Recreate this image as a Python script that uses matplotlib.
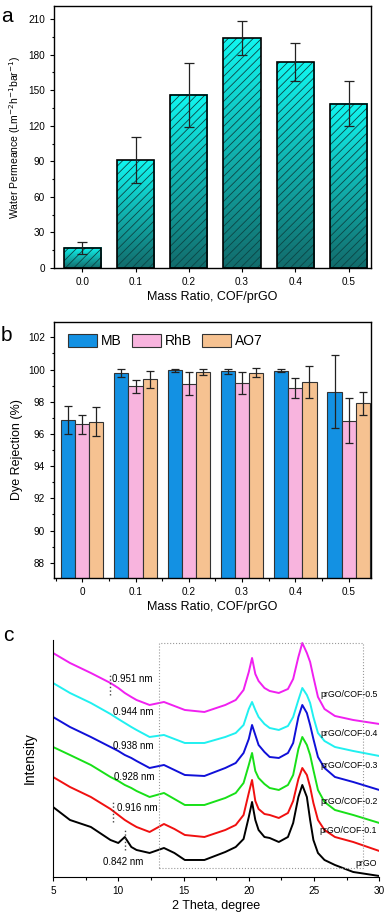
import numpy as np
import matplotlib
matplotlib.use("Agg")
import matplotlib.pyplot as plt
from matplotlib.colors import LinearSegmentedColormap
from matplotlib.ticker import MultipleLocator, NullLocator

plt.rcParams['font.family'] = ['Liberation Sans', 'DejaVu Sans']
plt.rcParams['hatch.linewidth'] = 0.6

# ---- panel a: water permeance ----
ratio_labels = ["0.0", "0.1", "0.2", "0.3", "0.4", "0.5"]
permeance = [17, 91, 146, 194, 173.5, 138.5]
permeance_err = [5, 19.5, 27, 14, 16, 19]

# ---- panel b: dye rejection ----
ratio_labels_b = ["0", "0.1", "0.2", "0.3", "0.4", "0.5"]
dyes = ["MB", "RhB", "AO7"]
rej_mb = [96.86, 99.8, 99.95, 99.9, 99.93, 98.62]
rej_mb_err = [0.88, 0.25, 0.08, 0.15, 0.08, 2.25]
rej_rhb = [96.6, 98.95, 99.12, 99.17, 98.85, 96.82]
rej_rhb_err = [0.6, 0.4, 0.7, 0.68, 0.65, 1.38]
rej_ao7 = [96.77, 99.4, 99.83, 99.8, 99.22, 97.9]
rej_ao7_err = [0.93, 0.52, 0.18, 0.27, 0.98, 0.72]
dye_colors = ["#1391E3", "#F8B4DE", "#F6C291"]

# ---- panel c: XRD ----
two_theta = [5.0, 6.3, 7.9, 9.4, 10.0, 10.5, 11.0, 11.4, 12.4, 13.5, 14.3, 15.1, 16.6,
             18.2, 19.0, 19.6, 20.0, 20.25, 20.5, 20.75, 21.2, 21.6, 22.3, 23.0, 23.4,
             23.8, 24.1, 24.45, 24.7, 24.95, 25.3, 25.8, 26.6, 28.0, 30.0]
xrd_prgo = [70, 57, 50, 37, 34, 40, 30, 27, 24, 29, 24, 17, 17, 25, 30, 38, 60, 75, 57,
            47, 40, 39, 35, 40, 54, 80, 92, 80, 57, 37, 24, 17, 12, 5, 1]
xrd_01 = [100, 90, 80, 68, 62, 57, 53, 50, 45, 53, 48, 42, 40, 47, 52, 62, 84, 97, 76,
          68, 63, 62, 59, 64, 76, 98, 109, 102, 90, 74, 57, 47, 40, 35, 26]
xrd_02 = [130, 122, 112, 100, 96, 92, 89, 86, 80, 84, 78, 72, 72, 79, 84, 94, 112, 124,
          106, 99, 93, 89, 87, 92, 102, 128, 140, 132, 122, 107, 87, 75, 67, 62, 54]
xrd_03 = [160, 150, 140, 130, 126, 122, 119, 116, 109, 112, 107, 102, 101, 109, 114, 124,
          138, 152, 142, 132, 125, 120, 119, 124, 134, 160, 172, 164, 152, 138, 120, 109,
          100, 95, 87]
xrd_04 = [194, 184, 174, 163, 158, 154, 150, 147, 140, 142, 138, 134, 134, 140, 144, 152,
          168, 175, 167, 160, 153, 149, 147, 151, 160, 177, 189, 182, 174, 160, 144, 136,
          130, 126, 121]
xrd_05 = [224, 214, 204, 194, 189, 184, 180, 177, 172, 175, 171, 167, 165, 172, 177, 187,
          205, 219, 203, 196, 189, 186, 184, 188, 198, 220, 234, 224, 215, 200, 180, 168,
          161, 157, 153]
xrd_names = ["prGO", "prGO/COF-0.1", "prGO/COF-0.2", "prGO/COF-0.3",
             "prGO/COF-0.4", "prGO/COF-0.5"]
xrd_colors = ["black", "#F01010", "#18E018", "#1010D8", "#20F0F0", "#F020F0"]
name_y = [13.7, 46.3, 75.3, 111.3, 143.7, 182]
d_labels = ["0.842 nm", "0.916 nm", "0.928 nm", "0.938 nm", "0.944 nm", "0.951 nm"]
d_label_x = [8.8, 9.9, 9.69, 9.59, 9.56, 9.51]
d_label_y = [15.3, 68.7, 99.7, 131, 165, 197.7]

fig = plt.figure(figsize=(3.85, 9.14), dpi=100)
ax_a = fig.add_axes([0.1403, 0.7068, 0.8234, 0.2866])
ax_b = fig.add_axes([0.1403, 0.3676, 0.8234, 0.2801])
ax_c = fig.add_axes([0.1377, 0.0405, 0.8475, 0.2593])

tick_fs = 7.2
label_fs = 9

# panel a
grad = LinearSegmentedColormap.from_list("teal", ["#126C6C", "#10F6F0"])
xa = np.arange(len(permeance))
w = 0.7
for xi, h in zip(xa, permeance):
    ax_a.imshow(np.linspace(0, 1, 64).reshape(-1, 1), extent=[xi - w / 2, xi + w / 2, 0, h],
                origin="lower", aspect="auto", cmap=grad, zorder=1)
ax_a.bar(xa, permeance, w, fill=False, hatch="////", edgecolor="#0B4545", lw=0, zorder=2)
ax_a.bar(xa, permeance, w, fill=False, edgecolor="black", lw=1.2, zorder=3)
ax_a.errorbar(xa, permeance, yerr=permeance_err, fmt="none", ecolor="#222222",
              elinewidth=0.9, capsize=3.5, capthick=0.9, zorder=4)
ax_a.set_xlim(-0.53, 5.42)
ax_a.set_ylim(0, 221)
ax_a.set_xticks(xa)
ax_a.set_xticklabels(ratio_labels)
ax_a.yaxis.set_major_locator(MultipleLocator(30))
ax_a.yaxis.set_minor_locator(MultipleLocator(15))
ax_a.set_xlabel("Mass Ratio, COF/prGO", fontsize=label_fs, labelpad=3)
ax_a.set_ylabel("Water Permeance (Lm$^{-2}$h$^{-1}$bar$^{-1}$)", fontsize=7.5, labelpad=4)

# panel b
xb = np.arange(len(rej_mb))
wb = 0.265
series = [(rej_mb, rej_mb_err), (rej_rhb, rej_rhb_err), (rej_ao7, rej_ao7_err)]
for k, (vals, errs) in enumerate(series):
    pos = xb + (k - 1) * wb
    ax_b.bar(pos, vals, wb, color=dye_colors[k], edgecolor="#333333", lw=0.8,
             label=dyes[k], zorder=2)
    ax_b.errorbar(pos, vals, yerr=errs, fmt="none", ecolor="#222222", elinewidth=0.9,
                  capsize=3, capthick=0.9, zorder=3)
ax_b.set_xlim(-0.53, 5.42)
ax_b.set_ylim(87.05, 102.95)
ax_b.set_xticks(xb)
ax_b.set_xticklabels(ratio_labels_b)
ax_b.xaxis.set_minor_locator(MultipleLocator(0.5))
ax_b.yaxis.set_major_locator(MultipleLocator(2))
ax_b.yaxis.set_minor_locator(MultipleLocator(1))
ax_b.set_xlabel("Mass Ratio, COF/prGO", fontsize=label_fs, labelpad=3)
ax_b.set_ylabel("Dye Rejection (%)", fontsize=label_fs, labelpad=4)
ax_b.legend(loc="upper left", ncol=3, frameon=False, fontsize=10,
            handlelength=2.1, handleheight=1.05, columnspacing=0.7, handletextpad=0.3,
            borderpad=0, borderaxespad=0, bbox_to_anchor=(0.044, 0.952))

for ax in (ax_a, ax_b):
    for s in ax.spines.values():
        s.set_linewidth(1.0)
    ax.tick_params(which="both", direction="out", labelsize=tick_fs, width=0.8)
    ax.tick_params(which="major", length=3)
    ax.tick_params(which="minor", length=1.8)

# panel c
curves = [xrd_prgo, xrd_01, xrd_02, xrd_03, xrd_04, xrd_05]
for vals, col in zip(curves, xrd_colors):
    ax_c.plot(two_theta, vals, color=col, lw=1.4)
for name, yy in zip(xrd_names, name_y):
    ax_c.text(29.85, yy, name, fontsize=6.3, ha="right", va="center")
for lab, lx, ly in zip(d_labels, d_label_x, d_label_y):
    ax_c.text(lx, ly, lab, fontsize=7, ha="left", va="center")
ax_c.plot([9.4, 9.4], [182, 202], ls=":", color="#444444", lw=1)
ax_c.plot([9.59, 9.59], [55, 77], ls=":", color="#444444", lw=1)
ax_c.plot([10.53, 10.53], [27, 47], ls=":", color="#444444", lw=1)
ax_c.plot([13.13, 28.72, 28.72, 13.13, 13.13], [8.7, 8.7, 233.7, 233.7, 8.7],
          ls=":", color="#999999", lw=0.8)
ax_c.set_xlim(5, 30)
ax_c.set_ylim(0, 237)
ax_c.xaxis.set_major_locator(MultipleLocator(5))
ax_c.xaxis.set_minor_locator(MultipleLocator(2.5))
ax_c.yaxis.set_major_locator(NullLocator())
ax_c.spines["top"].set_visible(False)
ax_c.spines["right"].set_visible(False)
ax_c.tick_params(which="both", direction="out", labelsize=tick_fs, width=0.8)
ax_c.tick_params(which="major", length=3)
ax_c.tick_params(which="minor", length=1.8)
ax_c.set_xlabel("2 Theta, degree", fontsize=label_fs, labelpad=3)
ax_c.set_ylabel("Intensity", fontsize=label_fs + 1, labelpad=12)

fig.text(0.002, 0.992, "a", fontsize=15, va="top")
fig.text(0.002, 0.643, "b", fontsize=15, va="top")
fig.text(0.008, 0.315, "c", fontsize=15, va="top")

fig.savefig("out.png", dpi=100)
